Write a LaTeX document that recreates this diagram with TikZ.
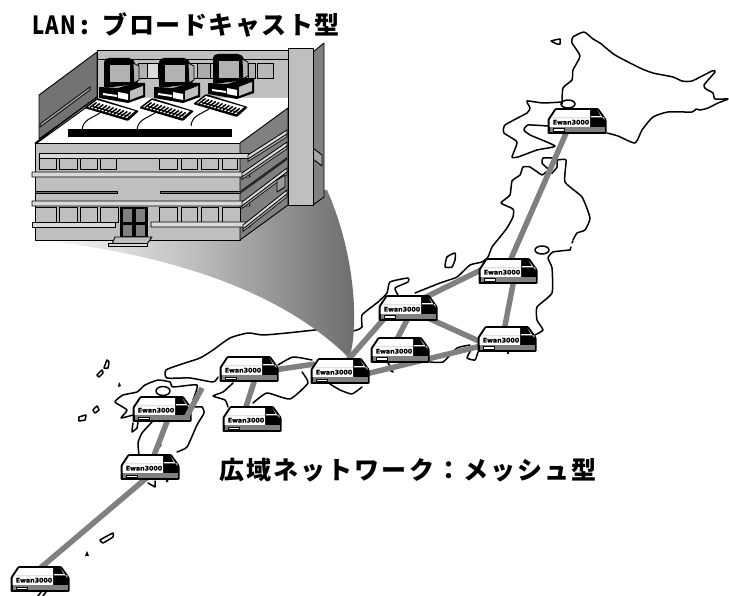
\documentclass[tikz,border=0pt]{standalone}
\usepackage{fontspec}
\newfontfamily\jp[LetterSpace=6]{Noto Sans CJK JP}
\newfontfamily\jpw[LetterSpace=8.5]{Noto Sans CJK JP}
\newfontfamily\lab[FakeBold=1.2]{DejaVu Sans}
\definecolor{wallg}{gray}{0.75}
\definecolor{sideg}{gray}{0.5}
\definecolor{strip}{gray}{0.85}
\tikzset{
 coast/.style={line width=1.5pt,line join=round,line cap=round},
 link/.style={draw=black!50,line width=5.5pt},
 routeranchor/.style={minimum width=59pt,minimum height=25pt,inner sep=0pt},
 bld/.style={draw=black,line width=.9pt,line join=round},
 routerunit/.pic={
  \fill[black,rounded corners=1pt] (-29.5,12.8)--(-29.5,-1.5)--(-22,-12.8)--(21.5,-12.8)--(29.5,-1.5)--(29.5,12.8)--cycle;
  \fill[white] (-27.5,-.8)--(-21,-10.8)--(13,-10.8)--(13,5.8)--(-27.5,5.8)--cycle;
  \fill[black!12] (-26.5,-2.6)--(13,-2.6)--(13,-3.8)--(-25.8,-3.8)--cycle;
  \fill[white] (20.5,-10.6)--(27.4,-1.2)--(27.4,-3.6)--(14,-3.6)--(14,-4.8)--(24,-4.8)--cycle;
  \fill[black!50] (-27.5,6.2) rectangle (27.5,10.8);
  \draw[black,line width=.6pt,fill=white] (-24,7.8) rectangle (-12.5,10.2);
  \node[inner sep=0pt,font=\lab\bfseries\fontsize{6.3}{6.3}\selectfont] (-lab) at (-6,1.2) {Ewan3000};
 },
 winpane/.style={draw=black,line width=.8pt,fill=wallg},
}
\begin{document}
\begin{tikzpicture}[x=1pt,y=-1pt]
\useasboundingbox (0,0) rectangle (729,596);
\fill[white] (0,0) rectangle (729,596);

% ---------- map ----------
\draw[coast] plot[smooth,tension=.35] coordinates {(562,104)(563,88)(572,80)(573,70)(580,56)(572,43)(573,37)(584,32)(593,39)(600,43)(615,55)(640,68)(653,73)(673,77)(682,81)(692,81)(712,71)(715,72)(704,85)(706,89)(713,93)(715,99)(728,99)(718,103)(708,108)(700,110)(696,109)(692,112)(668,112)(653,117)(642,130)(635,143)(618,136)(607,133)};
\draw[coast] plot[smooth,tension=.3] coordinates {(562,102)(543,103)(527,101)(530,108)(527,113)(505,125)(504,133)(517,142)(512,157)(518,157)(537,150)(555,146)(530,135)(524,130)(528,125)(548,126)};
\draw[coast] plot[smooth cycle,tension=.2] coordinates {(551,41)(560,39)(560,44)(557,44)};
\draw[coast] (568,104) ellipse (7 and 4);
% Honshu, Japan Sea side
\draw[coast] plot[smooth,tension=.3] coordinates {(552,173)(547,168)(542,163)(543,158)(553,158)(557,160)(566,160)(565,182)(582,197)(590,218)(585,230)(577,233)(573,240)};
\draw[coast] plot[smooth,tension=.3] coordinates {(557,160)(557,167)(552,173)(546,172)(542,175)(530,167)(523,167)(520,175)(512,181)(510,195)(501,203)(513,209)(513,217)(507,228)(500,237)(492,247)(488,257)(482,262)(470,265)(457,277)(440,283)(415,293)};
\draw[coast] (570,250)--(571,247) (572,243)--(573,241);
\draw[coast] plot[smooth,tension=.3] coordinates {(570,250)(553,252)(548,258)(552,268)(552,293)(537,307)(537,320)(543,330)(535,335)};
\draw[coast] (542,250) ellipse (7 and 4);
\draw[coast] plot[smooth cycle,tension=.3] coordinates {(445,267)(447,257)(455,253)(455,260)(452,267)};
\draw[coast] plot[smooth,tension=.3] coordinates {(398,295)(395,288)(408,282)(408,278)(390,282)(387,293)(378,302)(362,315)(362,327)(357,330)(345,333)};
\draw[coast] plot[smooth,tension=.35] coordinates {(325,329)(315,330)(287,333)(263,335)(248,333)(230,338)(213,350)(200,358)(182,364)(166,370)(167,378)(190,378)(213,382)(218,377)};
\draw[coast] plot[smooth,tension=.3] coordinates {(278,365)(293,357)(312,360)};
\draw[coast] plot[smooth,tension=.3] coordinates {(302,372)(308,383)(290,399)(267,393)(253,403)};
\draw[coast] plot[smooth,tension=.3] coordinates {(233,383)(223,392)(213,396)(225,400)(228,407)};
\draw[coast] plot[smooth,tension=.3] coordinates {(330,384)(340,390)(352,394)(362,387)};
\draw[coast] plot[smooth,tension=.3] coordinates {(388,363)(393,372)(387,368)};
\draw[coast] plot[smooth,tension=.3] coordinates {(430,362)(443,362)(457,348)(470,345)};
\draw[coast] plot[smooth,tension=.3] coordinates {(471,350)(467,358)(475,360)(478,352)};
\fill (508,353) circle (1.3);
% Kyushu
\draw[coast] plot[smooth,tension=.3] coordinates {(133,415)(121,418)(127,410)(115,402)(123,395)(137,392)(145,385)(158,380)(170,382)(173,387)(197,385)(193,400)};
\draw[coast] plot[smooth,tension=.3] coordinates {(192,407)(202,407)(204,413)(197,425)(187,447)(177,452)};
\draw[coast] plot[smooth,tension=.2] coordinates {(133,423)(132,432)(137,428)(138,422)};
\draw[coast] plot[smooth,tension=.3] coordinates {(152,422)(142,433)(138,443)(139,455)};
\draw[coast] (155,452)--(161,445);
\draw[coast] (163,391) ellipse (7 and 4.5);
% islands
\draw[coast] plot[smooth cycle,tension=.2] coordinates {(97,375)(102,370)(103,373)(99,377)};
\draw[coast] plot[smooth cycle,tension=.2] coordinates {(104,368)(107,360)(109,362)(108,368)};
\fill (119,382)--(121,386)--(118,387)--cycle;
\draw[coast] plot[smooth cycle,tension=.2] coordinates {(93,410)(97,406)(99,410)(95,413)};
\draw[coast] plot[smooth cycle,tension=.1] coordinates {(79,417)(86,415)(85,420)(79,421)};
\draw[coast] plot[smooth cycle,tension=.2] coordinates {(100,540)(113,533)(113,537)(103,543)};
\fill (87,551)--(89,556)--(85,556)--cycle;
\draw[coast] (148,483)--(155,487)--(155,481);
\fill (167,481) circle (1.5);
\draw[coast] (41,592)--(38,596) (46,592)--(43,596);

% ---------- funnel ----------
\shade[left color=white,right color=black!58,middle color=black!26]
 (35,240) .. controls (120,248) and (265,274) .. (349,358)
 .. controls (358,335) and (358,260) .. (327,190) -- (200,190) -- cycle;

% ---------- building ----------
\draw[bld,fill=wallg] (97,50) rectangle (288,98);
\draw[bld] (97,59)--(288,59);
\foreach \a/\b/\c in {138/147/30,147/158/14,158/197/22,197/210/33,210/248/25,248/255/30,257/273/28}{
  \draw[black,line width=.5pt,fill=black!\c] (\a,63) rectangle (\b,78);
}
\fill[white] (35,143)--(97,98)--(288,98)--(288,108)--(240,143)--cycle;
\draw[bld,fill=black!55] (39,95)--(97,52)--(97,97)--(39,139)--cycle;
\draw[line width=1pt,black!90,fill=black!30] (40,124)--(90,87)--(90,90)--(40,127)--cycle;
\draw[bld,fill=black!40] (35,143)--(97,97)--(98,99)--(37,143)--cycle;

% computers
\foreach \dx/\dy in {0/0,55/0,109/-4}{
\begin{scope}[shift={(\dx,\dy)}]
 \draw[black,line width=1pt] (100,113) .. controls (90,119) and (83,120) .. (82,130);
 \fill[black,rounded corners=2pt] (104,60)--(107,58)--(131,58)--(135,62)--(138,84)--(104,88)--cycle;
 \draw[black,line width=.8pt,fill=black!30] (133,63)--(139,66)--(139,80)--(134,83)--cycle;
 \fill[black!30] (110,65) rectangle (130,82);
 \fill[black] (99,87)--(118,88)--(135,83)--(145,83)--(145,97)--(128,103)--(99,98)--cycle;
 \fill[black!25] (130,91)--(143,86)--(143,95)--(130,100)--cycle;
 \fill[white] (118,92)--(128,94)--(128,100)--(118,98)--cycle;
 \fill[white] (103,93)--(117,95)--(117,97)--(103,95)--cycle;
 \fill[black,rounded corners=1pt] (84,108)--(97,98)--(139,111)--(128,121)--cycle;
 \fill[white] (88,107)--(97,100)--(135,111)--(127,118)--cycle;
 \foreach \t in {0,.09,.18,.27,.36,.45,.54,.63,.72,.81,.9}{
  \draw[black,line width=1.5pt] ({90+\t*38},{107.5+\t*11})--({96.5+\t*38},{102.5+\t*11});
 }
 \draw[black,line width=.9pt] (93,106.5)--(132,117);
\end{scope}
}
\fill[black] (68,129) rectangle (232,137);

% front
\draw[bld,fill=wallg] (35,143) rectangle (240,240);
\draw[bld,fill=sideg] (240,143)--(288,108)--(288,205)--(240,240)--cycle;
\foreach \a/\b in {39/56,59/77,80/97,100/116,159/177,181/197,201/218,222/237}{
 \draw[winpane] (\a,158.5) rectangle (\b,169.5);
}
\foreach \a/\b in {35/56,59/77,80/97,100/118,159/177,181/197,201/218,222/240}{
 \draw[winpane] (\a,207) rectangle (\b,222);
}
\draw[black,line width=.8pt,fill=black!55] (35,191) rectangle (117,193.5);
\draw[black,line width=.8pt,fill=black!55] (160,191) rectangle (240,193.5);
\draw[bld,fill=strip] (39,153)--(250,153)--(250,158)--(39,158)--cycle;
\draw[bld,fill=strip] (32,172)--(34,172)--(248,172)--(250,177)--(32,177)--cycle;
\draw[bld,fill=strip] (32,201)--(248,201)--(250,206)--(32,206)--cycle;
\draw[bld,fill=strip] (32,222)--(115,222)--(115,227)--(32,227)--cycle;
\draw[bld,fill=strip] (151,222)--(248,222)--(250,227)--(151,227)--cycle;
% door
\fill[black] (120,207) rectangle (148,238);
\foreach \a/\b/\p/\q in {123/132/209/222,136/145/209/222,123/132/225/236,136/145/225/236}{
 \fill[black!50] (\a,\p) rectangle (\b,\q);
}
\draw[bld,fill=wallg] (115,237)--(152,237)--(147,244)--(112,244)--cycle;
\draw[bld,fill=strip] (108,243)--(147,243)--(147,246)--(108,246)--cycle;
% side strips
\foreach \ax/\ay/\by in {248/155/130,242/173/142,242/202/168,243/225/190}{
 \draw[black,line width=.8pt,fill=black!15] (\ax,\ay)--(287,\by)--(287,{\by+4})--(\ax,{\ay+4})--cycle;
 \draw[black,line width=.6pt,fill=black!35] (\ax,{\ay+4})--(287,{\by+4})--(287,{\by+7})--(\ax,{\ay+6.5})--cycle;
}
\fill[black!85] (240,191)--(287,157)--(287,160)--(240,194)--cycle;
\draw[bld,fill=black!40] (277,180)--(285,175)--(285,187)--(277,192)--cycle;
% column
\draw[bld,fill=sideg] (313,52)--(324,43)--(324,197)--(313,205)--cycle;
\draw[bld,fill=black!35] (313,148)--(322,155)--(322,166)--(313,159)--cycle;
\draw[bld,fill=wallg] (288,48) rectangle (313,205);

% ---------- routers: anchors, links beneath, then the units ----------
\node[routeranchor] (r1) at (577,121) {};
\node[routeranchor] (r2) at (508,271) {};
\node[routeranchor] (r3) at (507,339) {};
\node[routeranchor] (r4) at (408,308) {};
\node[routeranchor] (r5) at (400,350) {};
\node[routeranchor] (r6) at (340,371) {};
\node[routeranchor] (r7) at (249,369) {};
\node[routeranchor] (r8) at (252,419) {};
\node[routeranchor] (r9) at (162,409) {};
\node[routeranchor] (r10) at (150,467) {};
\node[routeranchor] (r11) at (40,579) {};
\coordinate (stubend) at (202,388);
\draw[link] ([shift={(-10,10)}]r1.center)--([shift={(2,-10)}]r2.center);
\draw[link] ([shift={(6,8)}]r2.center)--([shift={(-3,-8)}]r3.center);
\draw[link] ([shift={(-25,-2)}]r2.center)--([shift={(16,-10)}]r4.center);
\draw[link] ([shift={(20,10)}]r4.center)--([shift={(-26,3)}]r3.center);
\draw[link] ([shift={(0,10)}]r4.center)--([shift={(-4,-9)}]r5.center);
\draw[link] ([shift={(-18,4)}]r4.center)--([shift={(7,-10)}]r6.center);
\draw[link] ([shift={(26,3)}]r6.center)--([shift={(-26,7)}]r3.center);
\draw[link] ([shift={(25,1)}]r7.center)--([shift={(-25,-7)}]r6.center);
\draw[link] ([shift={(6,10)}]r7.center)--([shift={(-7,-9)}]r8.center);
\draw[link] ([shift={(6,10)}]r9.center)--([shift={(3,-9)}]r10.center);
\draw[link] ([shift={(0,8)}]r10.center)--([shift={(-2,-9)}]r11.center);
\foreach \n in {1,...,11}{ \pic (p\n) at (r\n) {routerunit}; }
\draw[link] (stubend)--([shift={(24,9)}]r9.center);

% ---------- labels ----------
\node[anchor=west,inner sep=0pt] (lanlabel) at (32,25) {\jp\fontsize{25}{25}\selectfont\bfseries\scalebox{.82}[1]{LAN}\hspace{5pt}:\hspace{13pt}ブロードキャスト型};
\node[anchor=west,inner sep=0pt] (wanlabel) at (219,470) {\jpw\fontsize{25}{25}\selectfont\bfseries 広域ネットワーク：メッシュ型};
\end{tikzpicture}
\end{document}
